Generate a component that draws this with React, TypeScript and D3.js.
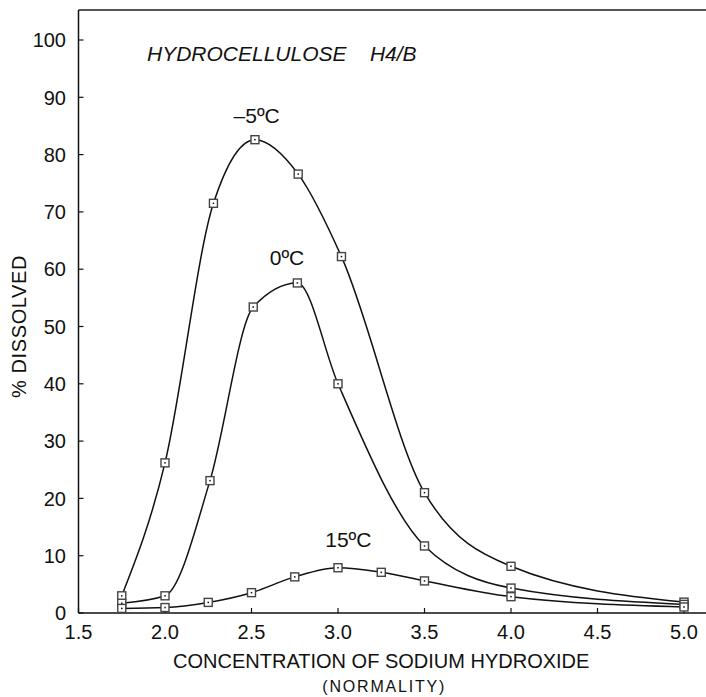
import React from "react";
import * as d3 from "d3";

const xTicks = [1.5, 2.0, 2.5, 3.0, 3.5, 4.0, 4.5, 5.0];
const yTicks = [0, 10, 20, 30, 40, 50, 60, 70, 80, 90, 100];

const xMinus5 = [1.75, 2.0, 2.28, 2.52, 2.77, 3.02, 3.5, 4.0, 5.0];
const yMinus5 = [3.0, 26.2, 71.5, 82.6, 76.6, 62.2, 21.0, 8.15, 1.9];

const xZero = [1.75, 2.0, 2.26, 2.51, 2.765, 3.0, 3.5, 4.0, 5.0];
const yZero = [1.7, 3.0, 23.1, 53.4, 57.6, 40.0, 11.7, 4.35, 1.5];

const xFifteen = [1.75, 2.0, 2.25, 2.5, 2.75, 3.0, 3.25, 3.5, 4.0, 5.0];
const yFifteen = [0.8, 0.95, 1.85, 3.55, 6.3, 7.9, 7.1, 5.6, 2.85, 1.05];

const seriesLabels = ["–5ºC", "0ºC", "15ºC"];
const labelX = [2.53, 2.705, 3.06];
const labelY = [85.5, 60.8, 11.5];

const W = 706;
const H = 697;
const FONT = "'Liberation Sans', Arial, Helvetica, sans-serif";

export default function App() {
  const x = d3.scaleLinear().domain([1.5, 5.0]).range([78.5, 684]);
  const y = d3.scaleLinear().domain([0, 100]).range([613, 40]);
  const line = d3
    .line<[number, number]>()
    .x((d) => x(d[0]))
    .y((d) => y(d[1]))
    .curve(d3.curveMonotoneX);

  const series = [
    d3.zip(xMinus5, yMinus5) as [number, number][],
    d3.zip(xZero, yZero) as [number, number][],
    d3.zip(xFifteen, yFifteen) as [number, number][],
  ];

  const x0 = x(1.5);
  const y0 = y(0);
  const topY = 10;
  const rightX = W;
  const midX = (x(1.5) + x(5.0)) / 2;

  return (
    <svg
      width={W}
      height={H}
      style={{ position: "absolute", left: 0, top: 0, background: "#fff" }}
      fontFamily={FONT}
    >
      {/* frame */}
      <line x1={x0} x2={rightX} y1={topY} y2={topY} stroke="#555" strokeWidth={2} />
      <line x1={x0} x2={x0} y1={topY} y2={y0} stroke="#111" strokeWidth={1.5} />
      <line x1={x0} x2={rightX} y1={y0} y2={y0} stroke="#111" strokeWidth={1.5} />

      {/* y ticks */}
      {yTicks.map((t) => (
        <g key={"y" + t}>
          <line x1={x0} x2={x0 + 5} y1={y(t)} y2={y(t)} stroke="#111" strokeWidth={1.2} />
          <text x={66} y={y(t)} dy="0.36em" textAnchor="end" fontSize={20} fill="#111">
            {t}
          </text>
        </g>
      ))}

      {/* x ticks */}
      {xTicks.map((t) => (
        <g key={"x" + t}>
          <line x1={x(t)} x2={x(t)} y1={y0} y2={y0 - 5} stroke="#111" strokeWidth={1.2} />
          <text x={x(t)} y={639} textAnchor="middle" fontSize={20} fill="#111">
            {t.toFixed(1)}
          </text>
        </g>
      ))}

      {/* curves */}
      {series.map((s, i) => (
        <path key={"p" + i} d={line(s) || ""} fill="none" stroke="#111" strokeWidth={1.5} />
      ))}

      {/* markers */}
      {series.map((s, i) =>
        s.map((d, j) => (
          <g key={"m" + i + "-" + j}>
            <rect
              x={x(d[0]) - 4}
              y={y(d[1]) - 4}
              width={8}
              height={8}
              fill="#fff"
              stroke="#444"
              strokeWidth={1.4}
            />
            <rect x={x(d[0]) - 0.75} y={y(d[1]) - 0.75} width={1.5} height={1.5} fill="#111" />
          </g>
        ))
      )}

      {/* series labels */}
      {seriesLabels.map((l, i) => (
        <text
          key={"l" + i}
          x={x(labelX[i])}
          y={y(labelY[i])}
          textAnchor="middle"
          fontSize={21}
          fill="#111"
        >
          {l}
        </text>
      ))}

      {/* title */}
      <text x={147} y={61} fontSize={21} fontStyle="italic" fill="#111">
        HYDROCELLULOSE{"\u00a0\u00a0\u00a0\u00a0"}H4/B
      </text>

      {/* axis titles */}
      <text
        transform={`translate(26, ${y(50)}) rotate(-90)`}
        textAnchor="middle"
        fontSize={20}
        letterSpacing={0.6}
        fill="#111"
      >
        % DISSOLVED
      </text>
      <text x={midX} y={668} textAnchor="middle" fontSize={20} fill="#111">
        CONCENTRATION OF SODIUM HYDROXIDE
      </text>
      <text
        x={midX + 3}
        y={692}
        textAnchor="middle"
        fontSize={16}
        letterSpacing={1.8}
        fill="#111"
      >
        (NORMALITY)
      </text>
    </svg>
  );
}
